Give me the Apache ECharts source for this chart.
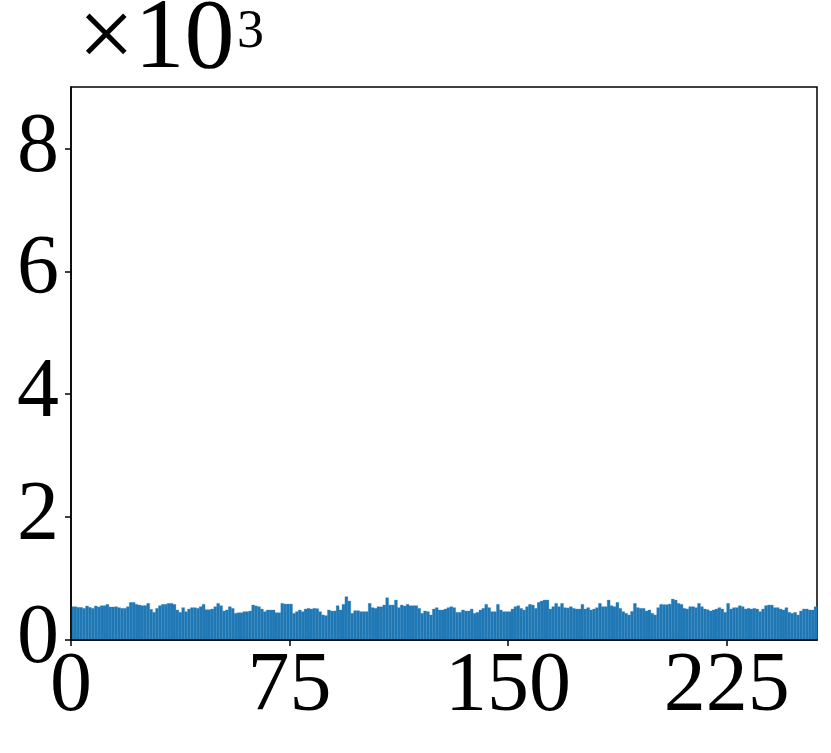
<!DOCTYPE html>
<html>
<head>
<meta charset="utf-8">
<script src="https://cdn.jsdelivr.net/npm/echarts@6/dist/echarts.min.js"></script>
<style>
  html, body { margin: 0; padding: 0; background: #fff; }
  #chart { width: 831px; height: 753px; }
</style>
</head>
<body>
<div id="chart"></div>
<script>
// histogram counts, one per bin 0..255
var counts = [
  542, 542, 531, 531, 515, 553, 531, 515, 553, 537, 558, 558, 580, 537, 537, 542,
  526, 515, 515, 542, 612, 612, 580, 569, 558, 560, 596, 500, 450, 515, 558, 580,
  580, 596, 596, 580, 488, 450, 526, 461, 504, 526, 526, 515, 542, 580, 493, 493,
  504, 542, 596, 558, 472, 488, 542, 515, 434, 444, 444, 461, 461, 472, 569, 555,
  542, 504, 461, 488, 488, 488, 444, 444, 596, 585, 585, 585, 434, 461, 488, 461,
  504, 515, 504, 515, 510, 461, 407, 396, 488, 472, 472, 558, 488, 580, 705, 634,
  434, 477, 477, 461, 461, 461, 596, 526, 515, 542, 540, 569, 688, 569, 569, 650,
  526, 569, 553, 580, 558, 558, 558, 515, 434, 472, 461, 407, 504, 526, 488, 488,
  504, 526, 542, 526, 450, 450, 488, 472, 472, 504, 434, 450, 488, 515, 580, 526,
  461, 461, 580, 488, 461, 461, 461, 504, 542, 558, 515, 488, 542, 580, 569, 515,
  612, 634, 650, 650, 504, 542, 596, 542, 596, 526, 520, 542, 515, 504, 504, 580,
  504, 526, 488, 504, 526, 596, 542, 542, 650, 558, 542, 612, 515, 461, 434, 407,
  465, 596, 526, 515, 515, 472, 488, 434, 407, 526, 580, 575, 575, 585, 666, 650,
  596, 580, 515, 504, 542, 542, 526, 596, 542, 504, 493, 472, 488, 504, 526, 504,
  450, 596, 504, 526, 526, 558, 542, 504, 515, 504, 515, 504, 461, 504, 558, 569,
  569, 526, 526, 504, 488, 526, 450, 434, 450, 407, 472, 504, 504, 488, 488, 542,
  526
];
counts = counts.slice(0, 256);

var xTicks = [0, 75, 150, 225];
var yTicks = [0, 2000, 4000, 6000, 8000];

var binData = counts.map(function (v, i) { return [i, v]; });

var fontFam = '"Liberation Serif", "DejaVu Serif", serif';

var chart = echarts.init(document.getElementById('chart'));

chart.setOption({
  animation: false,
  backgroundColor: '#fff',
  grid: {
    left: 71, top: 87, width: 746, height: 553,
    show: true, borderColor: '#000', borderWidth: 1.5, backgroundColor: 'transparent'
  },
  xAxis: {
    type: 'value', min: 0, max: 256, interval: 75, z: 5,
    axisLine: { show: true, onZero: false, lineStyle: { color: '#000', width: 1.5 } },
    axisTick: { show: true, length: 6, lineStyle: { color: '#000', width: 1.5 } },
    splitLine: { show: false },
    axisLabel: {
      color: '#000', fontFamily: fontFam, fontSize: 84, margin: 6,
      showMaxLabel: false,
      formatter: function (v) { return xTicks.indexOf(v) >= 0 ? String(v) : ''; }
    }
  },
  yAxis: {
    type: 'value', min: 0, max: 9000, interval: 2000, z: 5,
    axisLine: { show: true, lineStyle: { color: '#000', width: 1.5 } },
    axisTick: { show: true, length: 6, lineStyle: { color: '#000', width: 1.5 } },
    splitLine: { show: false },
    axisLabel: {
      color: '#000', fontFamily: fontFam, fontSize: 84, margin: 12,
      showMaxLabel: false,
      formatter: function (v) { return yTicks.indexOf(v) >= 0 ? String(v / 1000) : ''; }
    }
  },
  graphic: [{
    type: 'text', left: 78, top: -9, z: 10,
    style: { text: '×10', fontFamily: fontFam, fontSize: 100, fill: '#000' }
  }, {
    type: 'text', left: 237, top: 6, z: 10,
    style: { text: '3', fontFamily: fontFam, fontSize: 54, fill: '#000' }
  }],
  series: [{
    type: 'custom',
    z: 2,
    data: binData,
    renderItem: function (params, api) {
      var x = api.value(0), v = api.value(1);
      var p0 = api.coord([x, v]);
      var p1 = api.coord([x + 1, 0]);
      return {
        type: 'rect',
        shape: { x: p0[0], y: p0[1], width: p1[0] - p0[0], height: p1[1] - p0[1] },
        style: { fill: '#1f77b4', stroke: '#2b83c0', lineWidth: 0.3 }
      };
    }
  }]
});
</script>
</body>
</html>
